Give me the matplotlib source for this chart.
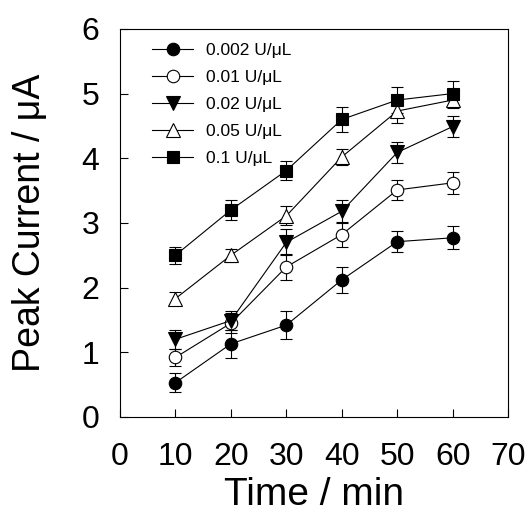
import numpy as np
import matplotlib
matplotlib.use("Agg")
import matplotlib.pyplot as plt

plt.rcParams['font.family'] = ['Liberation Sans', 'DejaVu Sans']

# Data
time = np.array([10, 20, 30, 40, 50, 60])

labels = ['0.002 U/μL', '0.01 U/μL', '0.02 U/μL', '0.05 U/μL', '0.1 U/μL']

c_0002 = [0.53, 1.13, 1.42, 2.12, 2.71, 2.77]
e_0002 = [0.15, 0.22, 0.22, 0.2, 0.16, 0.18]

c_001 = [0.92, 1.45, 2.32, 2.82, 3.51, 3.62]
e_001 = [0.13, 0.15, 0.2, 0.2, 0.16, 0.17]

c_002 = [1.2, 1.49, 2.7, 3.18, 4.09, 4.49]
e_002 = [0.15, 0.15, 0.2, 0.18, 0.16, 0.16]

c_005 = [1.83, 2.5, 3.11, 4.02, 4.73, 4.9]
e_005 = [0.1, 0.1, 0.15, 0.13, 0.18, 0.12]

c_01 = [2.5, 3.2, 3.81, 4.6, 4.9, 5.0]
e_01 = [0.13, 0.15, 0.14, 0.2, 0.2, 0.2]

series = [c_0002, c_001, c_002, c_005, c_01]
errors = [e_0002, e_001, e_002, e_005, e_01]
markers = ['o', 'o', 'v', '^', 's']
faces = ['black', 'white', 'black', 'white', 'black']
sizes = [9, 9, 10, 10, 9]

fig = plt.figure(figsize=(5.31, 5.16), dpi=100)
ax = fig.add_axes([0.226, 0.192, 0.731, 0.752])

for y, e, m, fc, ms, lab in zip(series, errors, markers, faces, sizes, labels):
    ax.errorbar(time, y, yerr=e, marker=m, mfc=fc, mec='black', ms=ms,
                color='black', lw=0.8, elinewidth=0.8, capsize=4.5,
                capthick=0.8, label=lab, mew=0.8)

ax.set_xlim(0, 70)
ax.set_ylim(0, 6)
ax.set_xticks(range(0, 71, 10))
ax.set_yticks(range(0, 7))
ax.tick_params(axis='both', direction='in', length=6, width=0.8,
               labelsize=23, top=False, right=False)
ax.tick_params(axis='x', pad=18)
ax.tick_params(axis='y', pad=15)
for s in ax.spines.values():
    s.set_linewidth(0.8)

ax.set_xlabel('Time / min', fontsize=28, labelpad=4)
ax.set_ylabel('Peak Current / μA', fontsize=27, labelpad=24)

handles, labs = ax.get_legend_handles_labels()
handles = [h[0] for h in handles]
ax.legend(handles, labs, loc='upper left', frameon=False, fontsize=12.5,
          handlelength=2.4, handletextpad=0.7, labelspacing=0.68,
          borderaxespad=0.2, bbox_to_anchor=(0.055, 0.99))

fig.savefig('out.png', dpi=100)
